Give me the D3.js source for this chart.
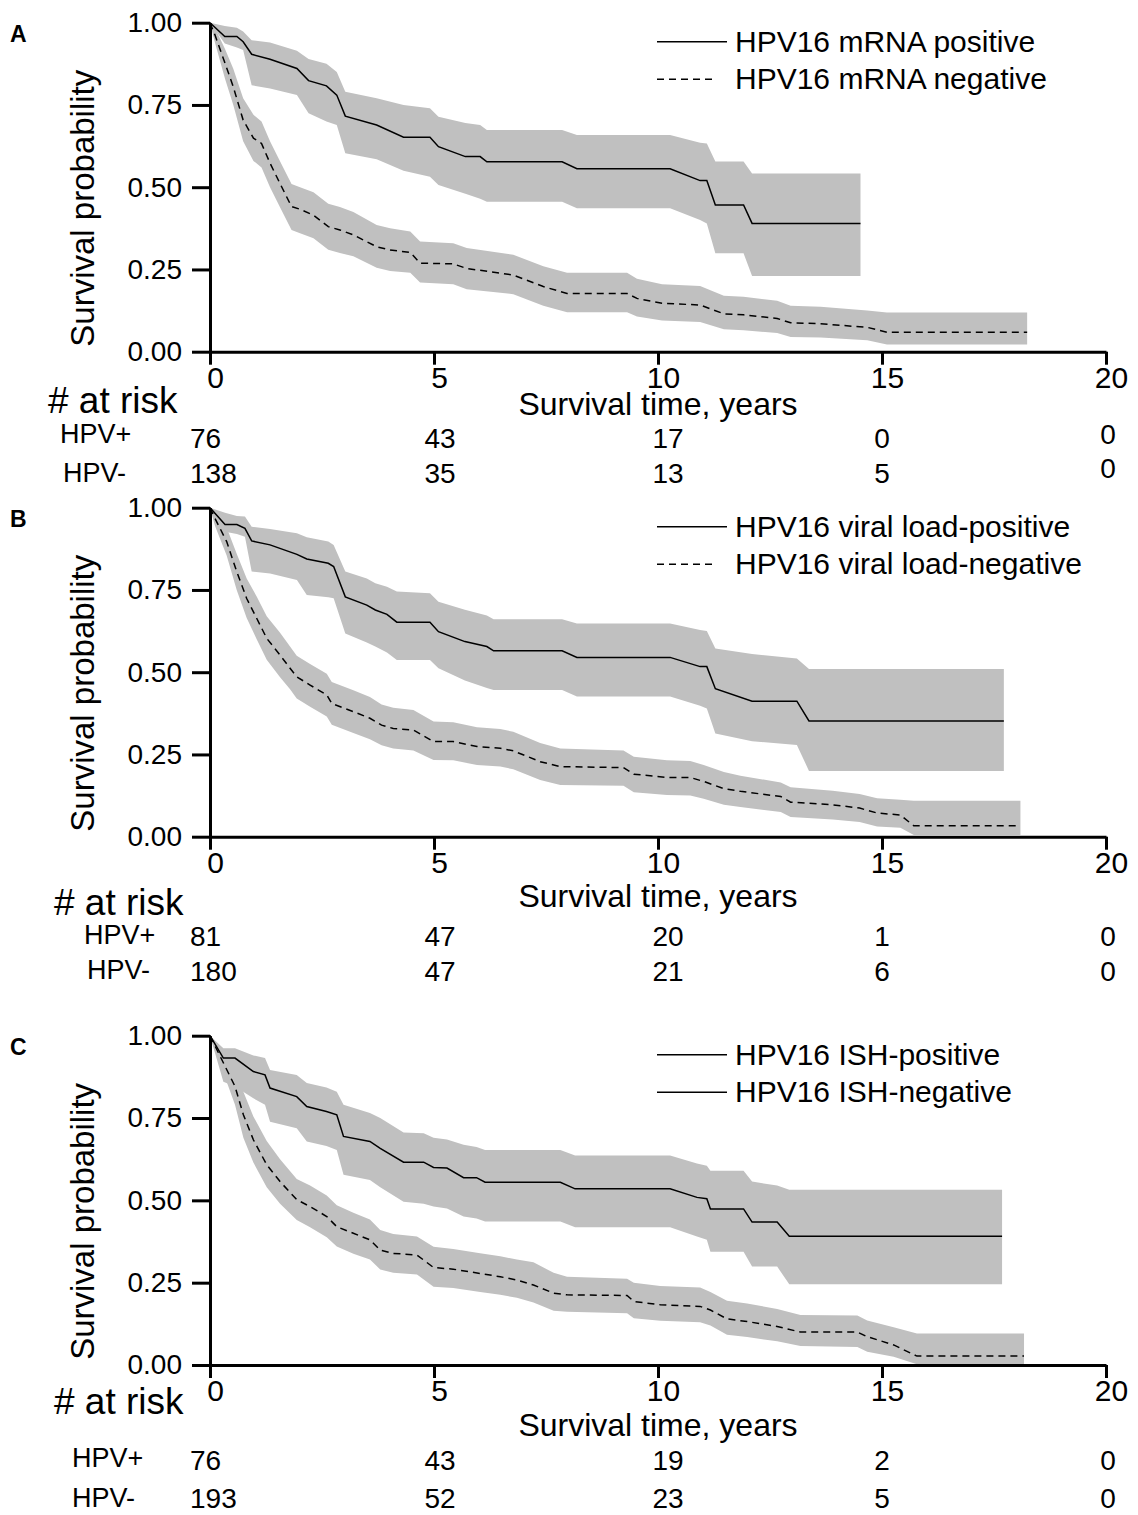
<!DOCTYPE html>
<html><head><meta charset="utf-8">
<script src="https://cdn.jsdelivr.net/npm/d3@7"></script>
<style>
html,body{margin:0;padding:0;background:#fff;}
svg{display:block;}
text{font-family:Arial,"Liberation Sans",sans-serif;fill:#000;}
</style></head>
<body>
<svg id="chart" width="1138" height="1515"></svg>
<script>
// ---------------- DATA ----------------
const xTicks = [0, 5, 10, 15, 20];
const yTicks = [0, 0.25, 0.5, 0.75, 1];
const panelLabels = ["A", "B", "C"];
const xTitle = "Survival time, years";
const yTitle = "Survival probability";
const riskTitle = "# at risk";
const riskGroups = ["HPV+", "HPV-"];

const legendA = ["HPV16 mRNA positive", "HPV16 mRNA negative"];
const legendB = ["HPV16 viral load-positive", "HPV16 viral load-negative"];
const legendC = ["HPV16 ISH-positive", "HPV16 ISH-negative"];
const legendDashA = [false, true];
const legendDashB = [false, true];
const legendDashC = [false, false];

const riskA_pos = [76, 43, 17, 0, 0];
const riskA_neg = [138, 35, 13, 5, 0];
const riskB_pos = [81, 47, 20, 1, 0];
const riskB_neg = [180, 47, 21, 6, 0];
const riskC_pos = [76, 43, 19, 2, 0];
const riskC_neg = [193, 52, 23, 5, 0];

// Panel A – positive
const tA_pos = [0, 0.33, 0.6, 0.74, 0.93, 1.34, 1.94, 2.2, 2.6, 2.83, 3.02, 3.72, 4.32, 4.91, 5.1, 5.7, 6.03, 6.18, 7.86, 8.19, 10.27, 10.94, 11.09, 11.28, 11.91, 12.1, 14.52];
const sA_pos = [1, 0.958, 0.958, 0.942, 0.904, 0.889, 0.861, 0.824, 0.808, 0.78, 0.716, 0.689, 0.652, 0.652, 0.623, 0.593, 0.593, 0.577, 0.577, 0.556, 0.556, 0.52, 0.52, 0.446, 0.446, 0.39, 0.39];
const hiA_pos = [1, 0.99, 0.985, 0.973, 0.947, 0.94, 0.915, 0.89, 0.875, 0.85, 0.79, 0.77, 0.75, 0.74, 0.714, 0.695, 0.689, 0.674, 0.674, 0.659, 0.659, 0.635, 0.633, 0.578, 0.578, 0.542, 0.542];
const loA_pos = [1, 0.937, 0.925, 0.917, 0.81, 0.80, 0.78, 0.725, 0.70, 0.689, 0.603, 0.585, 0.55, 0.532, 0.507, 0.48, 0.465, 0.456, 0.456, 0.436, 0.436, 0.40, 0.39, 0.299, 0.299, 0.23, 0.23];
// Panel A – negative
const tA_neg = [0, 0.11, 0.335, 0.52, 0.74, 0.97, 1.15, 1.34, 1.56, 1.82, 2.01, 2.31, 2.64, 2.9, 3.2, 3.72, 4.02, 4.47, 4.69, 5.43, 5.73, 6.77, 7.44, 7.97, 9.31, 9.53, 10.09, 10.94, 11.47, 11.91, 12.66, 12.96, 13.63, 14.67, 15.11, 18.24];
const sA_neg = [1, 0.963, 0.877, 0.805, 0.704, 0.649, 0.633, 0.573, 0.512, 0.441, 0.433, 0.415, 0.38, 0.37, 0.355, 0.319, 0.309, 0.302, 0.269, 0.267, 0.253, 0.233, 0.198, 0.177, 0.177, 0.162, 0.147, 0.142, 0.115, 0.112, 0.101, 0.088, 0.085, 0.074, 0.059, 0.059];
const hiA_neg = [1, 0.985, 0.92, 0.86, 0.77, 0.72, 0.70, 0.64, 0.58, 0.51, 0.50, 0.485, 0.45, 0.44, 0.425, 0.385, 0.375, 0.365, 0.335, 0.33, 0.315, 0.295, 0.26, 0.24, 0.24, 0.222, 0.205, 0.20, 0.17, 0.167, 0.155, 0.14, 0.137, 0.125, 0.119, 0.119];
const loA_neg = [1, 0.94, 0.83, 0.75, 0.64, 0.58, 0.56, 0.50, 0.44, 0.37, 0.36, 0.345, 0.31, 0.30, 0.29, 0.255, 0.245, 0.24, 0.21, 0.205, 0.19, 0.175, 0.14, 0.12, 0.12, 0.107, 0.095, 0.09, 0.068, 0.065, 0.057, 0.045, 0.043, 0.035, 0.022, 0.022];

// Panel B – positive
const tB_pos = [0, 0.335, 0.6, 0.78, 0.93, 1.34, 1.94, 2.16, 2.64, 2.76, 3.02, 3.5, 3.69, 3.95, 4.17, 4.91, 5.1, 5.69, 6.18, 6.33, 7.86, 8.19, 10.27, 10.94, 11.09, 11.28, 12.1, 13.1, 13.37, 17.72];
const sB_pos = [1, 0.949, 0.949, 0.937, 0.899, 0.887, 0.858, 0.844, 0.831, 0.821, 0.729, 0.704, 0.689, 0.676, 0.652, 0.652, 0.623, 0.593, 0.578, 0.565, 0.565, 0.545, 0.545, 0.517, 0.517, 0.45, 0.412, 0.412, 0.352, 0.352];
const hiB_pos = [1, 0.985, 0.975, 0.973, 0.942, 0.935, 0.922, 0.91, 0.897, 0.887, 0.806, 0.785, 0.77, 0.76, 0.745, 0.74, 0.714, 0.69, 0.672, 0.661, 0.661, 0.648, 0.648, 0.628, 0.625, 0.572, 0.555, 0.542, 0.51, 0.51];
const loB_pos = [1, 0.927, 0.92, 0.912, 0.806, 0.80, 0.78, 0.735, 0.728, 0.725, 0.618, 0.59, 0.578, 0.56, 0.537, 0.537, 0.512, 0.475, 0.452, 0.446, 0.446, 0.426, 0.426, 0.398, 0.39, 0.314, 0.29, 0.279, 0.2, 0.2];
// Panel B – negative
const tB_neg = [0, 0.11, 0.372, 0.596, 0.819, 1.042, 1.266, 1.564, 1.787, 1.936, 2.234, 2.606, 2.718, 3.2, 3.57, 3.83, 4.09, 4.54, 4.99, 5.43, 5.96, 6.48, 6.77, 7.37, 7.82, 9.23, 9.46, 10.2, 10.72, 11.02, 11.47, 11.84, 12.74, 12.96, 13.9, 14.5, 14.89, 15.41, 15.71, 18.09];
const sB_neg = [1, 0.968, 0.897, 0.806, 0.724, 0.664, 0.603, 0.552, 0.512, 0.486, 0.461, 0.431, 0.405, 0.38, 0.36, 0.339, 0.329, 0.324, 0.289, 0.289, 0.274, 0.269, 0.261, 0.228, 0.213, 0.21, 0.19, 0.18, 0.18, 0.168, 0.146, 0.138, 0.122, 0.105, 0.097, 0.087, 0.072, 0.066, 0.033, 0.033];
const hiB_neg = [1, 0.99, 0.94, 0.86, 0.785, 0.73, 0.67, 0.62, 0.578, 0.55, 0.525, 0.495, 0.47, 0.445, 0.425, 0.402, 0.392, 0.385, 0.35, 0.348, 0.333, 0.327, 0.319, 0.285, 0.268, 0.262, 0.243, 0.232, 0.23, 0.218, 0.197, 0.185, 0.165, 0.15, 0.14, 0.13, 0.117, 0.112, 0.109, 0.109];
const loB_neg = [1, 0.945, 0.855, 0.75, 0.665, 0.60, 0.538, 0.485, 0.448, 0.42, 0.395, 0.365, 0.34, 0.315, 0.296, 0.278, 0.268, 0.262, 0.233, 0.232, 0.218, 0.213, 0.205, 0.172, 0.157, 0.155, 0.135, 0.127, 0.125, 0.115, 0.097, 0.09, 0.075, 0.06, 0.052, 0.045, 0.031, 0.027, 0.005, 0.005];

// Panel C – positive
const tC_pos = [0, 0.298, 0.558, 0.968, 1.228, 1.34, 1.936, 2.16, 2.6, 2.83, 2.98, 3.57, 3.8, 4.32, 4.77, 4.99, 5.29, 5.66, 5.95, 6.14, 7.82, 8.15, 10.27, 10.87, 11.09, 11.17, 11.91, 12.1, 12.66, 12.93, 17.68];
const sC_pos = [1, 0.932, 0.932, 0.891, 0.881, 0.841, 0.815, 0.785, 0.77, 0.76, 0.694, 0.679, 0.658, 0.616, 0.616, 0.6, 0.598, 0.569, 0.569, 0.555, 0.555, 0.535, 0.535, 0.509, 0.505, 0.474, 0.474, 0.434, 0.434, 0.391, 0.391];
const hiC_pos = [1, 0.962, 0.962, 0.94, 0.932, 0.896, 0.881, 0.856, 0.843, 0.83, 0.79, 0.765, 0.75, 0.706, 0.704, 0.69, 0.685, 0.669, 0.662, 0.653, 0.653, 0.636, 0.636, 0.612, 0.605, 0.59, 0.59, 0.557, 0.545, 0.532, 0.532];
const loC_pos = [1, 0.86, 0.846, 0.81, 0.79, 0.739, 0.719, 0.679, 0.665, 0.653, 0.578, 0.562, 0.54, 0.496, 0.49, 0.481, 0.475, 0.451, 0.445, 0.436, 0.436, 0.418, 0.418, 0.39, 0.38, 0.344, 0.344, 0.299, 0.299, 0.245, 0.245];
// Panel C – negative
const tC_neg = [0, 0.558, 0.745, 0.968, 1.266, 1.564, 1.936, 2.234, 2.606, 2.83, 3.2, 3.57, 3.8, 4.09, 4.62, 4.99, 5.43, 6.03, 6.48, 6.85, 7.22, 7.67, 7.97, 9.31, 9.46, 10.05, 10.94, 11.17, 11.54, 11.99, 12.66, 13.18, 14.45, 14.67, 15.26, 15.78, 18.17];
const sC_neg = [1, 0.846, 0.76, 0.684, 0.608, 0.557, 0.502, 0.481, 0.451, 0.42, 0.40, 0.38, 0.349, 0.339, 0.334, 0.296, 0.291, 0.278, 0.268, 0.258, 0.243, 0.218, 0.213, 0.211, 0.193, 0.183, 0.178, 0.167, 0.14, 0.132, 0.117, 0.10, 0.10, 0.086, 0.061, 0.027, 0.027];
const hiC_neg = [1, 0.90, 0.83, 0.755, 0.68, 0.625, 0.565, 0.545, 0.515, 0.485, 0.462, 0.442, 0.41, 0.398, 0.39, 0.359, 0.352, 0.339, 0.33, 0.32, 0.312, 0.28, 0.268, 0.262, 0.25, 0.24, 0.235, 0.222, 0.195, 0.187, 0.17, 0.152, 0.15, 0.135, 0.115, 0.096, 0.096];
const loC_neg = [1, 0.79, 0.69, 0.615, 0.54, 0.49, 0.44, 0.418, 0.388, 0.36, 0.338, 0.32, 0.29, 0.28, 0.275, 0.238, 0.234, 0.222, 0.213, 0.204, 0.19, 0.165, 0.162, 0.157, 0.142, 0.134, 0.13, 0.12, 0.092, 0.085, 0.072, 0.058, 0.055, 0.04, 0.025, 0.002, 0.002];

// ---------------- LAYOUT ----------------
const FONT = 'Arial,"Liberation Sans",sans-serif';
const BAND = "#c0c0c0";
const rows = (t, s, lo, hi) => t.map((v, i) => ({t: v, s: s[i], lo: lo[i], hi: hi[i]}));

const panels = [
  {label: panelLabels[0], y1: 22.7, y0: 351.7, legend: legendA, dash: legendDashA,
   groups: [rows(tA_pos, sA_pos, loA_pos, hiA_pos), rows(tA_neg, sA_neg, loA_neg, hiA_neg)],
   risk: [riskA_pos, riskA_neg],
   layout: {riskTitleX: 48, riskTitleY: 413, xTitleY: 415, grpX: [60, 63], grpY: [443, 482], numY: [448, 483], lastY: [444, 478]}},
  {label: panelLabels[1], y1: 507.7, y0: 836.7, legend: legendB, dash: legendDashB,
   groups: [rows(tB_pos, sB_pos, loB_pos, hiB_pos), rows(tB_neg, sB_neg, loB_neg, hiB_neg)],
   risk: [riskB_pos, riskB_neg],
   layout: {riskTitleX: 54, riskTitleY: 915, xTitleY: 907, grpX: [84, 87], grpY: [944, 979], numY: [946, 981], lastY: [946, 981]}},
  {label: panelLabels[2], y1: 1035.7, y0: 1365, legend: legendC, dash: legendDashC,
   groups: [rows(tC_pos, sC_pos, loC_pos, hiC_pos), rows(tC_neg, sC_neg, loC_neg, hiC_neg)],
   risk: [riskC_pos, riskC_neg],
   layout: {riskTitleX: 54, riskTitleY: 1414, xTitleY: 1436, grpX: [72, 72], grpY: [1467, 1507], numY: [1470, 1508], lastY: [1470, 1508]}}
];

const svg = d3.select("#chart");
const x = d3.scaleLinear().domain([0, 20]).range([210, 1106]);
const riskColX = [190, 440, 668, 882, 1108];

panels.forEach((p, pi) => {
  const y = d3.scaleLinear().domain([0, 1]).range([p.y0, p.y1]);
  const g = svg.append("g");

  const area = d3.area().x(d => x(d.t)).y0(d => y(d.lo)).y1(d => y(d.hi));
  const line = d3.line().x(d => x(d.t)).y(d => y(d.s));

  // bands
  p.groups.forEach(data => {
    g.append("path").attr("d", area(data)).attr("fill", BAND).attr("stroke", "none");
  });
  // curves
  p.groups.forEach((data, gi) => {
    g.append("path").attr("d", line(data)).attr("fill", "none").attr("stroke", "#000")
      .attr("stroke-width", 1.5).attr("stroke-dasharray", gi === 1 ? "7,5" : null);
  });

  // y axis
  const ya = g.append("g").attr("transform", "translate(210,0)")
    .call(d3.axisLeft(y).tickValues(yTicks).tickFormat(d3.format(".2f")).tickSize(18).tickSizeOuter(0).tickPadding(10));
  ya.select(".domain").attr("stroke", "#000").attr("stroke-width", 3);
  ya.selectAll(".tick line").attr("stroke", "#000").attr("stroke-width", 3);
  ya.selectAll(".tick text").attr("font-size", 28).attr("font-family", FONT).attr("fill", "#000");

  // x axis
  const xa = g.append("g").attr("transform", `translate(0,${p.y0})`)
    .call(d3.axisBottom(x).tickValues(xTicks).tickFormat(d3.format("d")).tickSize(13).tickSizeOuter(0).tickPadding(2));
  xa.select(".domain").attr("stroke", "#000").attr("stroke-width", 3);
  xa.selectAll(".tick line").attr("stroke", "#000").attr("stroke-width", 3);
  xa.selectAll(".tick text").attr("font-size", 30).attr("font-family", FONT).attr("fill", "#000").attr("dx", 5);

  // y title
  const yc = (p.y0 + p.y1) / 2 + 21;
  g.append("text").attr("transform", `translate(94,${yc}) rotate(-90)`)
    .attr("text-anchor", "middle").attr("font-size", 33).text(yTitle);

  // panel label
  g.append("text").attr("x", 10).attr("y", p.y1 + 19).attr("font-size", 23)
    .attr("font-weight", "bold").text(p.label);

  // legend
  p.legend.forEach((name, li) => {
    const ly = p.y1 + 19 + li * 37.5;
    g.append("line").attr("x1", 657).attr("x2", p.dash[li] ? 715 : 727)
      .attr("y1", ly).attr("y2", ly).attr("stroke", "#000").attr("stroke-width", 1.5)
      .attr("stroke-dasharray", p.dash[li] ? "7,5" : null);
    g.append("text").attr("x", 735).attr("y", ly + 10).attr("font-size", 30).text(name);
  });

  // x title
  const L = p.layout;
  g.append("text").attr("x", 658).attr("y", L.xTitleY).attr("text-anchor", "middle")
    .attr("font-size", 32).text(xTitle);

  // at risk
  g.append("text").attr("x", L.riskTitleX).attr("y", L.riskTitleY).attr("font-size", 37).text(riskTitle);
  riskGroups.forEach((grp, ri) => {
    g.append("text").attr("x", L.grpX[ri]).attr("y", L.grpY[ri]).attr("font-size", 27).text(grp);
    p.risk[ri].forEach((n, ci) => {
      g.append("text").attr("x", riskColX[ci])
        .attr("y", ci === 4 ? L.lastY[ri] : L.numY[ri])
        .attr("text-anchor", ci === 0 ? "start" : "middle")
        .attr("font-size", 28).text(n);
    });
  });
});
</script>
</body></html>
